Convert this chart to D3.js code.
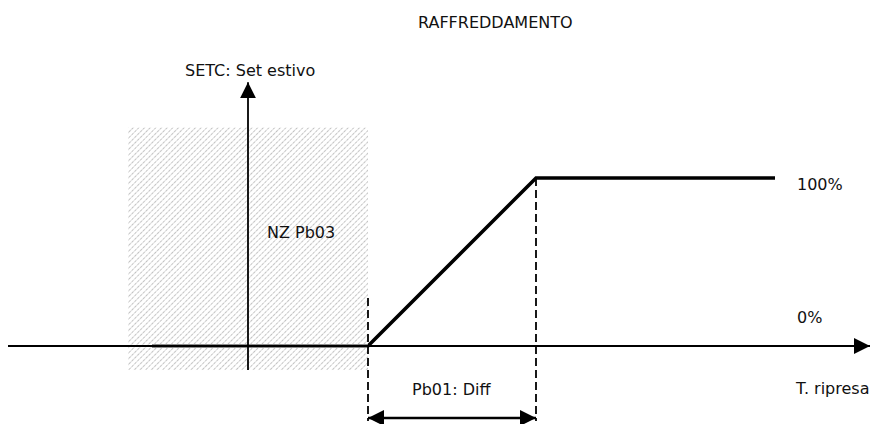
<!DOCTYPE html>
<html>
<head>
<meta charset="utf-8">
<script src="https://d3js.org/d3.v7.min.js"></script>
<style>
  body { margin: 0; background: #fff; }
  text { font-family: "DejaVu Sans", Verdana, sans-serif; font-size: 16px; fill: #111; }
</style>
</head>
<body>
<script>
// control curve (x in set-point units, y in % output)
var curveX = [-2.4, 3, 7.2, 13.175];
var curveY = [0, 0, 100, 100];
// neutral zone around set point
var nzRange = [-3, 3];
var diffRange = [3, 7.2];
var axisXRange = [-6, 15.55];
var axisYRange = [-14.3, 157];
var labels = {
  title: "RAFFREDDAMENTO",
  yName: "SETC: Set estivo",
  xName: "T. ripresa",
  nz: "NZ Pb03",
  diff: "Pb01: Diff",
  top: "100%",
  bottom: "0%"
};

var w = 873, h = 424;
var svg = d3.select("body").append("svg").attr("width", w).attr("height", h);

var x = d3.scaleLinear().domain([0, 1]).range([248, 288]);
var y = d3.scaleLinear().domain([0, 100]).range([346, 178]);

var defs = svg.append("defs");
var hatch = defs.append("pattern")
    .attr("id", "hatch")
    .attr("patternUnits", "userSpaceOnUse")
    .attr("width", 4).attr("height", 4)
    .attr("patternTransform", "rotate(45)");
hatch.append("rect").attr("width", 4).attr("height", 4).attr("fill", "#fff").attr("fill-opacity", 0.4);
hatch.append("line")
    .attr("x1", 0).attr("y1", 0).attr("x2", 0).attr("y2", 4)
    .attr("stroke", "#a0a0a0").attr("stroke-width", 1.3)
    .attr("stroke-dasharray", "2.5,1");

function arrowMarker(id, orient) {
  defs.append("marker")
      .attr("id", id)
      .attr("viewBox", "0 0 10 10")
      .attr("refX", 10).attr("refY", 5)
      .attr("markerUnits", "userSpaceOnUse")
      .attr("markerWidth", 16).attr("markerHeight", 16)
      .attr("orient", orient)
    .append("path").attr("d", "M0,0 L10,5 L0,10 Z").attr("fill", "#000");
}
arrowMarker("arr", "auto");
arrowMarker("arr2", "auto-start-reverse");

// thick curve (drawn under the hatched zone)
var line = d3.line().x(function(d) { return x(d[0]); }).y(function(d) { return y(d[1]); });
var pts = curveX.map(function(v, i) { return [v, curveY[i]]; });
svg.append("path")
    .attr("d", line(pts))
    .attr("fill", "none")
    .attr("stroke", "#000")
    .attr("stroke-width", 3.6)
    .attr("stroke-linejoin", "miter");

// neutral zone
svg.append("rect")
    .attr("x", x(nzRange[0]))
    .attr("y", y(130))
    .attr("width", x(nzRange[1]) - x(nzRange[0]))
    .attr("height", y(-14.3) - y(130))
    .attr("fill", "url(#hatch)");

// axes
svg.append("line")
    .attr("x1", x(axisXRange[0])).attr("x2", x(axisXRange[1]))
    .attr("y1", y(0)).attr("y2", y(0))
    .attr("stroke", "#000").attr("stroke-width", 1.8)
    .attr("marker-end", "url(#arr)");
svg.append("line")
    .attr("x1", x(0)).attr("x2", x(0))
    .attr("y1", y(axisYRange[0])).attr("y2", y(axisYRange[1]))
    .attr("stroke", "#000").attr("stroke-width", 1.8)
    .attr("marker-end", "url(#arr)");

// dashed guides
svg.append("line")
    .attr("x1", x(diffRange[0])).attr("x2", x(diffRange[0]))
    .attr("y1", y(28.5)).attr("y2", 421)
    .attr("stroke", "#000").attr("stroke-width", 1.8)
    .attr("stroke-dasharray", "8,4");
svg.append("line")
    .attr("x1", x(diffRange[1])).attr("x2", x(diffRange[1]))
    .attr("y1", y(100)).attr("y2", 421)
    .attr("stroke", "#000").attr("stroke-width", 1.8)
    .attr("stroke-dasharray", "8,4");

// diff dimension arrow
svg.append("line")
    .attr("x1", x(diffRange[0])).attr("x2", x(diffRange[1]))
    .attr("y1", 418).attr("y2", 418)
    .attr("stroke", "#000").attr("stroke-width", 2.5)
    .attr("marker-start", "url(#arr2)")
    .attr("marker-end", "url(#arr)");

// texts
svg.append("text").attr("x", 418).attr("y", 28).text(labels.title);
svg.append("text").attr("x", 185).attr("y", 76).text(labels.yName);
svg.append("text").attr("x", 267).attr("y", 238).text(labels.nz);
svg.append("text").attr("x", 797).attr("y", 190).text(labels.top);
svg.append("text").attr("x", 797).attr("y", 323).text(labels.bottom);
svg.append("text").attr("x", 796).attr("y", 394).text(labels.xName);
svg.append("text").attr("x", 412).attr("y", 395).text(labels.diff);
</script>
</body>
</html>
